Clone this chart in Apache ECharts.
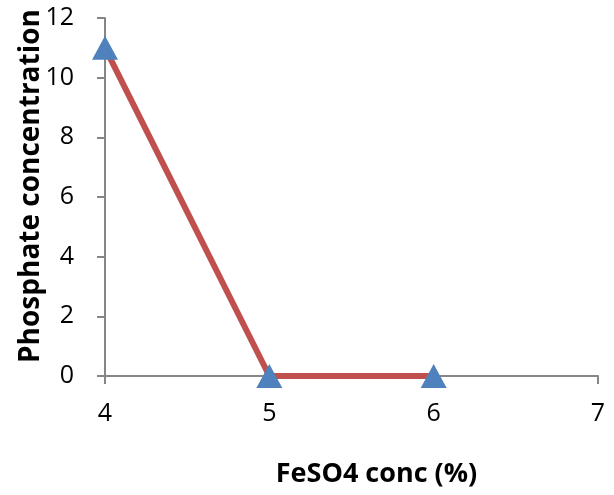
<!DOCTYPE html>
<html>
<head>
<meta charset="utf-8">
<script src="https://cdn.jsdelivr.net/npm/echarts@6/dist/echarts.min.js"></script>
<style>html,body{margin:0;padding:0;background:#fff;}#c{width:614px;height:495px;}</style>
</head>
<body>
<div id="c"></div>
<script>
const xValues = [4, 5, 6];
const yValues = [11, 0, 0];
const xTicks = [4, 5, 6, 7];
const yTicks = [0, 2, 4, 6, 8, 10, 12];
const xName = 'FeSO4 conc (%)';
const yName = 'Phosphate concentration';

const chart = echarts.init(document.getElementById('c'), null, {renderer: 'canvas'});
const font = 'Open Sans';
const axisLine = {show: true, lineStyle: {color: '#868686', width: 2}};
chart.setOption({
  animation: false,
  backgroundColor: '#ffffff',
  grid: {left: 105, right: 16, top: 18, bottom: 119, containLabel: false},
  xAxis: {
    type: 'value', min: xTicks[0], max: xTicks[xTicks.length - 1], interval: 1,
    axisLine: axisLine,
    axisTick: {show: true, length: 8, inside: false, lineStyle: {color: '#868686', width: 2}},
    splitLine: {show: false},
    axisLabel: {color: '#000', fontFamily: font, fontSize: 25, margin: 25},
    name: xName, nameLocation: 'middle', nameGap: 85, nameMoveOverlap: false,
    nameTextStyle: {color: '#000', fontFamily: font, fontSize: 27, fontWeight: 'bold', padding: [0, 0, 0, 50]}
  },
  yAxis: {
    type: 'value', min: yTicks[0], max: yTicks[yTicks.length - 1], interval: 2,
    axisLine: axisLine,
    axisTick: {show: true, length: 8, inside: false, lineStyle: {color: '#868686', width: 2}},
    splitLine: {show: false},
    axisLabel: {color: '#000', fontFamily: font, fontSize: 25, margin: 31, align: 'right'},
    name: yName, nameLocation: 'middle', nameGap: 60, nameMoveOverlap: false,
    nameTextStyle: {color: '#000', fontFamily: font, fontSize: 28, fontWeight: 'bold', padding: [0, 0, 0, 22]}
  },
  series: [{
    type: 'line',
    data: xValues.map((x, i) => [x, yValues[i]]),
    lineStyle: {color: '#C0504D', width: 6},
    symbol: 'triangle', symbolSize: [26, 24],
    itemStyle: {color: '#4F81BD'},
    z: 3
  }]
});
</script>
</body>
</html>
